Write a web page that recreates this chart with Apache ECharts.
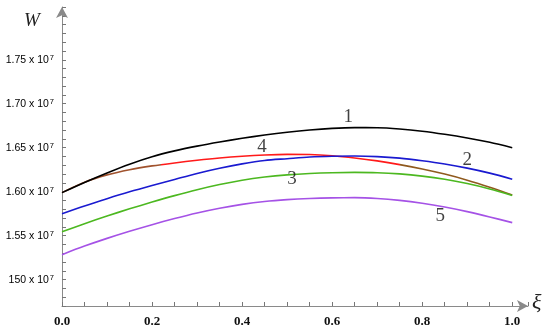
<!DOCTYPE html>
<html>
<head>
<meta charset="utf-8">
<script src="https://cdn.jsdelivr.net/npm/echarts@6/dist/echarts.min.js"></script>
<style>
html,body{margin:0;padding:0;background:#fff;}
#chart{width:550px;height:333px;}
</style>
</head>
<body>
<div id="chart"></div>
<script>
// xi values (dimensionless coordinate)
var xi = [0, 0.05, 0.1, 0.15, 0.2, 0.25, 0.3, 0.35, 0.4, 0.45, 0.5, 0.55, 0.6, 0.65, 0.7, 0.75, 0.8, 0.85, 0.9, 0.95, 1.0];
// W values in units of 10^7
var w1 = [1.5989, 1.6105, 1.6213, 1.6313, 1.6398, 1.6464, 1.6518, 1.6565, 1.6607, 1.6644, 1.6676, 1.6702, 1.6720, 1.6728, 1.6727, 1.6713, 1.6688, 1.6653, 1.6611, 1.6561, 1.6500];
var w2 = [1.5750, 1.5838, 1.5920, 1.5998, 1.6070, 1.6139, 1.6207, 1.6266, 1.6316, 1.6355, 1.6375, 1.6394, 1.6403, 1.6405, 1.6399, 1.6382, 1.6352, 1.6315, 1.6268, 1.6211, 1.6142];
var w3 = [1.5545, 1.5636, 1.5723, 1.5805, 1.5882, 1.5955, 1.6022, 1.6081, 1.6130, 1.6166, 1.6191, 1.6207, 1.6216, 1.6219, 1.6216, 1.6202, 1.6177, 1.6141, 1.6092, 1.6031, 1.5957];
var w4 = [1.5989, 1.6108, 1.6191, 1.6250, 1.6293, 1.6327, 1.6357, 1.6383, 1.6403, 1.6417, 1.6424, 1.6422, 1.6408, 1.6383, 1.6350, 1.6308, 1.6258, 1.6200, 1.6131, 1.6050, 1.5961];
var w5 = [1.5284, 1.5381, 1.5469, 1.5550, 1.5625, 1.5694, 1.5757, 1.5811, 1.5856, 1.5889, 1.5910, 1.5923, 1.5930, 1.5932, 1.5923, 1.5901, 1.5868, 1.5825, 1.5773, 1.5713, 1.5648];

var yTickValues = [1.50, 1.55, 1.60, 1.65, 1.70, 1.75];
var yTickLabels = ['150 x 10', '1.55 x 10', '1.60 x 10', '1.65 x 10', '1.70 x 10', '1.75 x 10'];
var xTickValues = [0, 0.2, 0.4, 0.6, 0.8, 1.0];
var xTickLabels = ['0.0', '0.2', '0.4', '0.6', '0.8', '1.0'];

// curve number labels
var curveLabelText = ['1', '2', '3', '4', '5'];
var curveLabelXi = [0.636, 0.900, 0.511, 0.444, 0.840];
var curveLabelW = [1.685, 1.636, 1.614, 1.651, 1.572];

function pairs(ys) { return xi.map(function (x, i) { return [x, ys[i]]; }); }

var chart = echarts.init(document.getElementById('chart'), null, {renderer: 'canvas'});
var axisColor = '#8a8a8a';

var option = {
  backgroundColor: '#ffffff',
  animation: false,
  grid: {left: 62, right: 22, top: 7, bottom: 27, containLabel: false},
  xAxis: {
    type: 'value', min: 0, max: 1.035, interval: 0.05,
    axisLine: {show: true, lineStyle: {color: axisColor, width: 1}, symbol: ['none', 'arrow'], symbolSize: [9, 11]},
    axisTick: {show: true, inside: true, length: 4, lineStyle: {color: '#777', width: 1}},
    splitLine: {show: false},
    axisLabel: {
      margin: 9, color: '#111', fontFamily: 'Liberation Serif', fontWeight: 'bold', fontSize: 13,
      formatter: function (v) {
        for (var i = 0; i < xTickValues.length; i++) {
          if (Math.abs(v - xTickValues[i]) < 1e-6) return xTickLabels[i];
        }
        return '';
      }
    }
  },
  yAxis: {
    type: 'value', min: 1.47, max: 1.81, interval: 0.01,
    axisLine: {show: true, lineStyle: {color: axisColor, width: 1}, symbol: ['none', 'arrow'], symbolSize: [9, 11]},
    axisTick: {show: true, inside: true, length: 4, lineStyle: {color: '#777', width: 1}},
    splitLine: {show: false},
    axisLabel: {
      margin: 8, color: '#000',
      formatter: function (v) {
        for (var i = 0; i < yTickValues.length; i++) {
          if (Math.abs(v - yTickValues[i]) < 1e-6) return '{n|' + yTickLabels[i] + '}{s|7}';
        }
        return '';
      },
      rich: {
        n: {fontFamily: 'Liberation Sans', fontSize: 10.5, color: '#000'},
        s: {fontFamily: 'Liberation Sans', fontSize: 7.5, color: '#000', verticalAlign: 'top', padding: [0, 0, 4, 1]}
      }
    }
  },
  visualMap: [{
    type: 'piecewise', show: false, seriesIndex: 3, dimension: 0,
    pieces: [
      {lt: 0.22, color: '#a0522d'},
      {gte: 0.22, lt: 0.75, color: '#ff1a1a'},
      {gte: 0.75, color: '#8f5a1e'}
    ]
  }],
  graphic: [
    {type: 'text', left: 24, top: 11, style: {text: 'W', font: 'italic 19px "Liberation Serif"', fill: '#222'}},
    {type: 'text', left: 532, top: 292, style: {text: 'ξ', font: 'italic 22px "Liberation Serif"', fill: '#222'}}
  ],
  series: [
    {type: 'line', name: '1', data: pairs(w1), smooth: 0.3, symbol: 'none', lineStyle: {color: '#000000', width: 1.6}, z: 5},
    {type: 'line', name: '2', data: pairs(w2), smooth: 0.3, symbol: 'none', lineStyle: {color: '#1a1ad0', width: 1.6}, z: 4},
    {type: 'line', name: '3', data: pairs(w3), smooth: 0.3, symbol: 'none', lineStyle: {color: '#4cb820', width: 1.6}, z: 3},
    {type: 'line', name: '4', data: pairs(w4), smooth: 0.3, symbol: 'none', lineStyle: {width: 1.6}, z: 2},
    {type: 'line', name: '5', data: pairs(w5), smooth: 0.3, symbol: 'none', lineStyle: {color: '#a552e6', width: 1.6}, z: 1},
    {
      type: 'scatter', symbolSize: 0, silent: true, z: 10,
      data: curveLabelText.map(function (t, i) { return {name: t, value: [curveLabelXi[i], curveLabelW[i]]}; }),
      label: {show: true, position: 'inside', formatter: '{b}', color: '#111', fontFamily: 'Liberation Serif', fontSize: 19}
    }
  ]
};
chart.setOption(option);
</script>
</body>
</html>
